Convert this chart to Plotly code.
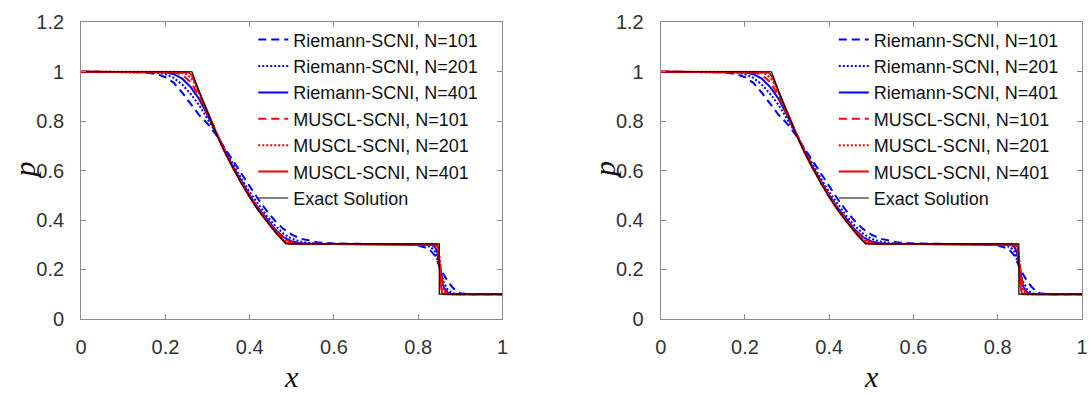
import plotly.graph_objects as go

# ---------------- data ----------------
exact_x = [0, 0.263, 0.28, 0.30, 0.32, 0.34, 0.36, 0.38, 0.40, 0.42, 0.44, 0.46, 0.47, 0.48, 0.486, 0.850, 0.850, 1.0]
exact_p = [1.0, 1.0, 0.921, 0.833, 0.752, 0.678, 0.611, 0.549, 0.493, 0.441, 0.395, 0.352, 0.333, 0.314, 0.303, 0.303, 0.1, 0.1]

r101_x = [0, 0.10, 0.15, 0.18, 0.20, 0.22, 0.24, 0.26, 0.28, 0.30, 0.32, 0.34, 0.36, 0.38, 0.40, 0.42, 0.44, 0.46,
          0.48, 0.50, 0.52, 0.54, 0.56, 0.58, 0.60, 0.65, 0.70, 0.75, 0.78, 0.80, 0.82, 0.83, 0.84, 0.85, 0.86, 0.87,
          0.88, 0.89, 0.90, 0.92, 0.95, 1.0]
r101_p = [1.0, 1.0, 0.998, 0.99, 0.978, 0.955, 0.915, 0.87, 0.825, 0.79, 0.745, 0.693, 0.64, 0.587, 0.535, 0.485,
          0.438, 0.397, 0.364, 0.341, 0.325, 0.316, 0.31, 0.307, 0.305, 0.304, 0.303, 0.303, 0.301, 0.297, 0.287,
          0.275, 0.255, 0.215, 0.18, 0.152, 0.13, 0.113, 0.104, 0.1, 0.1, 0.1]

r201_x = [0, 0.15, 0.18, 0.20, 0.22, 0.24, 0.26, 0.28, 0.30, 0.32, 0.34, 0.36, 0.38, 0.40, 0.42, 0.44, 0.46, 0.48,
          0.50, 0.52, 0.54, 0.56, 0.58, 0.65, 0.78, 0.80, 0.82, 0.83, 0.84, 0.85, 0.86, 0.87, 0.88, 0.89, 0.95, 1.0]
r201_p = [1.0, 1.0, 0.997, 0.99, 0.975, 0.948, 0.91, 0.865, 0.81, 0.752, 0.688, 0.627, 0.568, 0.513, 0.463, 0.418,
          0.378, 0.345, 0.324, 0.313, 0.307, 0.304, 0.303, 0.303, 0.303, 0.302, 0.297, 0.29, 0.272, 0.215, 0.15,
          0.118, 0.105, 0.101, 0.1, 0.1]

r401_x = [0, 0.18, 0.20, 0.22, 0.24, 0.26, 0.28, 0.30, 0.32, 0.34, 0.36, 0.38, 0.40, 0.42, 0.44, 0.46, 0.48, 0.50,
          0.52, 0.54, 0.60, 0.80, 0.82, 0.83, 0.84, 0.845, 0.85, 0.855, 0.86, 0.87, 0.88, 1.0]
r401_p = [1.0, 1.0, 0.998, 0.99, 0.972, 0.938, 0.89, 0.825, 0.752, 0.682, 0.617, 0.556, 0.5, 0.449, 0.404, 0.363,
          0.331, 0.313, 0.306, 0.304, 0.303, 0.303, 0.302, 0.3, 0.29, 0.27, 0.225, 0.17, 0.13, 0.106, 0.1, 0.1]

m101_x = [0, 0.20, 0.22, 0.24, 0.26, 0.28, 0.30, 0.32, 0.34, 0.36, 0.38, 0.40, 0.42, 0.44, 0.46, 0.48, 0.50, 0.52,
          0.60, 0.82, 0.83, 0.84, 0.845, 0.85, 0.855, 0.86, 0.865, 0.87, 0.88, 1.0]
m101_p = [1.0, 1.0, 0.998, 0.988, 0.958, 0.902, 0.83, 0.752, 0.679, 0.613, 0.552, 0.497, 0.446, 0.4, 0.359, 0.326,
          0.309, 0.304, 0.303, 0.303, 0.302, 0.296, 0.285, 0.24, 0.175, 0.13, 0.11, 0.103, 0.1, 0.1]

m201_x = [0, 0.22, 0.24, 0.25, 0.26, 0.27, 0.28, 0.30, 0.32, 0.34, 0.36, 0.38, 0.40, 0.42, 0.44, 0.46, 0.47, 0.48,
          0.49, 0.50, 0.52, 0.60, 0.83, 0.84, 0.845, 0.85, 0.855, 0.86, 0.87, 1.0]
m201_p = [1.0, 1.0, 0.996, 0.99, 0.976, 0.951, 0.914, 0.832, 0.752, 0.678, 0.612, 0.55, 0.494, 0.442, 0.397, 0.355,
          0.337, 0.322, 0.311, 0.306, 0.303, 0.303, 0.303, 0.3, 0.292, 0.26, 0.17, 0.115, 0.1, 0.1]

m401_x = [0, 0.24, 0.25, 0.255, 0.26, 0.265, 0.27, 0.28, 0.30, 0.32, 0.34, 0.36, 0.38, 0.40, 0.42, 0.44, 0.46, 0.47,
          0.48, 0.485, 0.49, 0.50, 0.60, 0.84, 0.845, 0.848, 0.851, 0.854, 0.857, 0.86, 1.0]
m401_p = [1.0, 1.0, 0.999, 0.997, 0.991, 0.978, 0.958, 0.918, 0.833, 0.752, 0.678, 0.611, 0.549, 0.493, 0.441,
          0.395, 0.353, 0.334, 0.317, 0.31, 0.306, 0.303, 0.303, 0.303, 0.3, 0.285, 0.2, 0.13, 0.105, 0.1, 0.1]

series_names = ["Riemann-SCNI, N=101", "Riemann-SCNI, N=201", "Riemann-SCNI, N=401",
                "MUSCL-SCNI, N=101", "MUSCL-SCNI, N=201", "MUSCL-SCNI, N=401", "Exact Solution"]

x_ticks = [0, 0.2, 0.4, 0.6, 0.8, 1]
x_ticklabels = ["0", "0.2", "0.4", "0.6", "0.8", "1"]
y_ticks = [0, 0.2, 0.4, 0.6, 0.8, 1, 1.2]
y_ticklabels = ["0", "0.2", "0.4", "0.6", "0.8", "1", "1.2"]

# ---------------- styling ----------------
BLUE = "#0000ff"
RED = "#ff0000"
DASH = "8px,5px"
DOT = "2px,2px"
styles = [
    dict(color=BLUE, width=2, dash=DASH),
    dict(color=BLUE, width=2, dash=DOT),
    dict(color=BLUE, width=2, dash="solid"),
    dict(color=RED, width=2, dash=DASH),
    dict(color=RED, width=2, dash=DOT),
    dict(color=RED, width=2, dash="solid"),
    dict(color="#000000", width=1.2, dash="solid"),
]
data_sets = [(r101_x, r101_p), (r201_x, r201_p), (r401_x, r401_p),
             (m101_x, m101_p), (m201_x, m201_p), (m401_x, m401_p), (exact_x, exact_p)]

fig = go.Figure()
for panel, (xa, ya, lg) in enumerate([("x", "y", "legend"), ("x2", "y2", "legend2")]):
    for name, (xs, ps), st in zip(series_names, data_sets, styles):
        fig.add_trace(go.Scatter(x=xs, y=ps, mode="lines", name=name, line=st,
                                 xaxis=xa, yaxis=ya, legend=lg, showlegend=True))

W, H = 1091, 395
left1, right1 = 76, 502
left2, right2 = 662, 1088
top, bottom = 12, 326

axis_common = dict(showline=True, linecolor="#8a8a8a", linewidth=1, mirror="ticks",
                   ticks="inside", ticklen=5, tickcolor="#8a8a8a", showgrid=False, zeroline=False,
                   tickfont=dict(family="Liberation Sans, Arial, sans-serif", size=20, color="#333333"))

fig.update_layout(
    width=W, height=H,
    margin=dict(l=0, r=0, t=0, b=0),
    paper_bgcolor="white", plot_bgcolor="white",
    xaxis=dict(domain=[left1 / W, right1 / W], range=[0, 1], anchor="y",
               tickvals=x_ticks, ticktext=x_ticklabels, ticklabelstandoff=10, **axis_common),
    yaxis=dict(domain=[(H - bottom) / H, (H - top) / H], range=[0, 1.2], anchor="x",
               tickvals=y_ticks, ticktext=y_ticklabels, ticklabelstandoff=12, **axis_common),
    xaxis2=dict(domain=[left2 / W, right2 / W], range=[0, 1], anchor="y2",
                tickvals=x_ticks, ticktext=x_ticklabels, ticklabelstandoff=10, **axis_common),
    yaxis2=dict(domain=[(H - bottom) / H, (H - top) / H], range=[0, 1.2], anchor="x2",
                tickvals=y_ticks, ticktext=y_ticklabels, ticklabelstandoff=12, **axis_common),
    showlegend=True,
)

legend_common = dict(bgcolor="rgba(0,0,0,0)", borderwidth=0, xanchor="left", yanchor="top",
                     font=dict(family="Liberation Sans, Arial, sans-serif", size=18, color="#111111"),
                     tracegroupgap=0, itemwidth=30)
fig.update_layout(
    legend=dict(x=250 / W, y=1 - 11 / H, **legend_common),
    legend2=dict(x=837 / W, y=1 - 11 / H, **legend_common),
)

label_font = dict(family="Liberation Serif, Times New Roman, serif", size=30, color="#111111")
for cx in [(left1 + right1) / 2, (left2 + right2) / 2]:
    fig.add_annotation(x=cx / W, y=1 - 387 / H, xref="paper", yref="paper", text="<i>x</i>",
                       showarrow=False, font=label_font, xanchor="center", yanchor="middle")
for cx in [19, 19 + 586]:
    fig.add_annotation(x=cx / W, y=1 - 168 / H, xref="paper", yref="paper", text="<i>p</i>",
                       showarrow=False, font=label_font, textangle=-90, xanchor="center", yanchor="middle")

fig.write_html("out.html")
